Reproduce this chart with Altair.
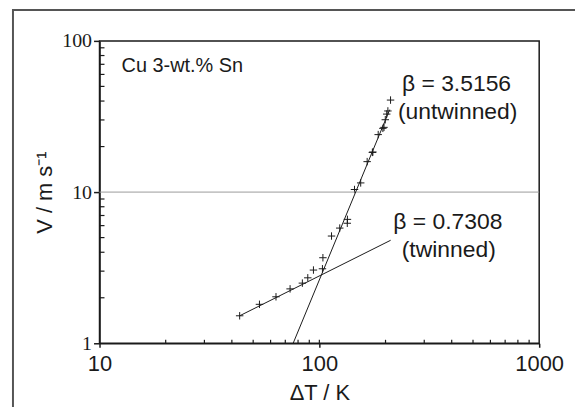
import altair as alt
import pandas as pd

# measured points (ΔT in K, V in m/s)
dT = [43.4, 53.4, 63.5, 73.6, 83.7, 88.6, 94.0, 103.3, 103.8, 113.6, 123.8, 134.0, 134.2,
      144.5, 154.2, 165.0, 174.2, 175.2, 185.2, 194.5, 196.8, 199.5, 202.5, 205.0, 210.8]
V = [1.52, 1.81, 2.03, 2.29, 2.50, 2.71, 3.05, 3.11, 3.68, 5.12, 5.78, 6.22, 6.60,
     10.4, 11.5, 15.9, 18.3, 18.4, 24.0, 26.4, 26.8, 30.1, 32.8, 34.4, 40.6]

# fitted lines (end points)
untw_x = [76.0, 209.0]
untw_y = [1.0, 35.1]
tw_x = [43.4, 211.0]
tw_y = [1.52, 4.80]

# annotations
ann_text = ["Cu 3-wt.% Sn", "β = 3.5156", "(untwinned)", "β = 0.7308", "(twinned)"]
ann_x = [12.6, 237.5, 227.8, 217.0, 237.0]
ann_y = [68.5, 51.9, 33.8, 6.38, 4.15]
ann_size = [20, 23, 23, 23, 23]

x_major = [10, 100, 1000]
y_major = [1, 10, 100]
x_minor = [20, 30, 40, 50, 60, 70, 80, 90, 100, 200, 300, 400, 500, 600, 700, 800, 900]
y_minor = [2, 3, 4, 5, 6, 7, 8, 9, 20, 30, 40, 50, 60, 70, 80, 90]
grid_y = [10]

W, H = 442, 304
PAD = {"left": 92, "top": 32, "right": 36, "bottom": 64}
INK = "#1a1a1a"

x_scale = alt.Scale(type="log", domain=[10, 1000], nice=False)
y_scale = alt.Scale(type="log", domain=[1, 100], nice=False)

xaxis = alt.Axis(values=x_major, format="d", title="ΔT / K", grid=False,
                 labelFont="Liberation Sans", labelFontSize=22, labelColor=INK,
                 labelPadding=6, labelFlush=False,
                 tickSize=4, tickColor=INK, tickWidth=1.5,
                 domainColor=INK, domainWidth=1.5,
                 titleFont="Liberation Sans", titleFontSize=22, titleFontWeight="normal",
                 titleColor=INK, titlePadding=9)
yaxis = alt.Axis(values=y_major, format="d", title="V / m s⁻¹", grid=False,
                 labelFont="Liberation Serif", labelFontSize=20, labelColor=INK,
                 labelPadding=2, labelFlush=False,
                 tickSize=6, tickColor=INK, tickWidth=1.5,
                 domainColor=INK, domainWidth=1.5,
                 titleFont="Liberation Sans", titleFontSize=22, titleFontWeight="normal",
                 titleColor=INK, titlePadding=5)


def X(field):
    return alt.X(field, type="quantitative", scale=x_scale, axis=xaxis)


def Y(field):
    return alt.Y(field, type="quantitative", scale=y_scale, axis=yaxis)


pts_df = pd.DataFrame({"dT": dT, "V": V})
lines_df = pd.DataFrame({
    "dT": untw_x + tw_x,
    "V": untw_y + tw_y,
    "fit": ["untwinned"] * len(untw_x) + ["twinned"] * len(tw_x),
})
ann_df = pd.DataFrame({"t": ann_text, "dT": ann_x, "V": ann_y, "s": ann_size})

one = pd.DataFrame({"a": [0]})
frame_top = alt.Chart(one).mark_rule(color="#555555", strokeWidth=2).encode(
    x=alt.value(-87), x2=alt.value(W + PAD["right"]), y=alt.value(-31)
)
frame_left = alt.Chart(one).mark_rule(color="#555555", strokeWidth=2).encode(
    x=alt.value(-87), y=alt.value(-32), y2=alt.value(H + PAD["bottom"])
)

grid = alt.Chart(pd.DataFrame({"V": grid_y})).mark_rule(color="#9a9a9a", strokeWidth=1).encode(
    y=Y("V")
)

ytick_minor = alt.Chart(pd.DataFrame({"V": y_minor})).mark_rule(color=INK, strokeWidth=1.2).encode(
    y=Y("V"), x=alt.value(0), x2=alt.value(5)
)
xtick_minor = alt.Chart(pd.DataFrame({"dT": x_minor})).mark_rule(color=INK, strokeWidth=1.2).encode(
    x=X("dT"), y=alt.value(H), y2=alt.value(H - 3.5)
)

lines = alt.Chart(lines_df).mark_line(color=INK, strokeWidth=1).encode(
    x=X("dT"), y=Y("V"), detail="fit:N",
)

points = alt.Chart(pts_df).mark_point(
    shape="M-1,0L1,0M0,-1L0,1", size=56, filled=False, stroke=INK, strokeWidth=1, opacity=1
).encode(x=X("dT"), y=Y("V"))

texts = alt.Chart(ann_df).mark_text(
    align="left", baseline="middle", font="Liberation Sans", color=INK
).encode(
    x=X("dT"), y=Y("V"),
    text="t:N",
    size=alt.Size("s:Q", scale=None, legend=None),
)

chart = alt.layer(points, grid, ytick_minor, xtick_minor, lines, texts, frame_top, frame_left).properties(
    width=W, height=H,
    autosize=alt.AutoSizeParams(type="none"),
    padding=PAD,
    background="white",
).configure_view(stroke=INK, strokeWidth=1.5)

chart.save("out.html", embed_options={"renderer": "svg", "actions": False})
